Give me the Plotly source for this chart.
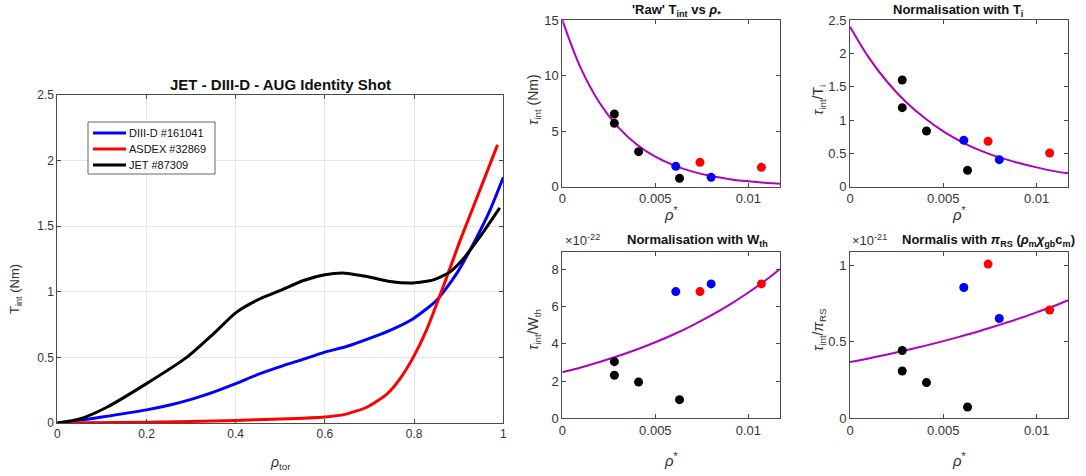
import plotly.graph_objects as go

W, H = 1086, 476

# ---------------- data: radial torque profiles ----------------
rho_diiid = [0.0, 0.05, 0.10, 0.20, 0.25, 0.30, 0.35, 0.40, 0.45, 0.50, 0.544, 0.60, 0.65, 0.70, 0.746, 0.798, 0.85, 0.895, 0.933, 0.97, 1.0]
T_diiid = [0.0, 0.02, 0.045, 0.10, 0.135, 0.18, 0.236, 0.30, 0.37, 0.43, 0.477, 0.54, 0.585, 0.645, 0.706, 0.795, 0.934, 1.137, 1.366, 1.62, 1.873]

rho_asdex = [0.0, 0.2, 0.4, 0.5, 0.6, 0.645, 0.694, 0.739, 0.769, 0.798, 0.828, 0.865, 0.903, 0.94, 0.987]
T_asdex = [0.0, 0.005, 0.02, 0.03, 0.046, 0.066, 0.12, 0.22, 0.34, 0.50, 0.71, 1.036, 1.39, 1.71, 2.12]

rho_jet = [0.0, 0.05, 0.111, 0.20, 0.29, 0.35, 0.402, 0.4545, 0.50, 0.552, 0.60, 0.645, 0.694, 0.746, 0.798, 0.843, 0.88, 0.91, 0.947, 0.992]
T_jet = [0.0, 0.03, 0.12, 0.30, 0.50, 0.68, 0.845, 0.947, 1.01, 1.086, 1.13, 1.142, 1.117, 1.079, 1.068, 1.091, 1.15, 1.25, 1.416, 1.64]

legend_names = ["DIII-D #161041", "ASDEX #32869", "JET #87309"]

# ---------------- data: scaling points vs rho* ----------------
rhostar_jet = [0.0028, 0.0028, 0.0041, 0.0063]
rhostar_diiid = [0.0061, 0.0080]
rhostar_asdex = [0.0074, 0.0107]

raw_jet = [6.54, 5.70, 3.15, 0.75]
raw_diiid = [1.83, 0.84]
raw_asdex = [2.19, 1.74]

ti_jet = [1.60, 1.185, 0.835, 0.245]
ti_diiid = [0.695, 0.405]
ti_asdex = [0.68, 0.505]

wth_jet = [3.04, 2.31, 1.95, 1.00]      # x 1e-22
wth_diiid = [6.80, 7.21]
wth_asdex = [6.80, 7.21]

rs_jet = [0.443, 0.309, 0.233, 0.074]   # x 1e-21
rs_diiid = [0.854, 0.652]
rs_asdex = [1.007, 0.707]

# fit curves
fit_x = [0.0, 0.001, 0.002, 0.003, 0.004, 0.005, 0.006, 0.007, 0.008, 0.009, 0.010, 0.011, 0.0117]
fit_raw = [15.0, 10.64, 7.55, 5.36, 3.80, 2.70, 1.92, 1.36, 0.96, 0.68, 0.49, 0.34, 0.27]
fit_ti = [2.40, 1.94, 1.57, 1.27, 1.03, 0.83, 0.67, 0.54, 0.44, 0.36, 0.29, 0.23, 0.20]
fit_wth = [2.47, 2.73, 3.02, 3.34, 3.69, 4.08, 4.51, 4.99, 5.52, 6.10, 6.75, 7.46, 8.01]
fit_rs = [0.367, 0.391, 0.417, 0.444, 0.473, 0.504, 0.537, 0.572, 0.610, 0.649, 0.692, 0.737, 0.771]


def px(x):
    return x / W


def py(y):
    return 1 - y / H


FONT = "Liberation Sans, Arial, Helvetica, sans-serif"
AXC = "#4a4a4a"
TXT = "#333333"
MAG = "#B000C0"

fig = go.Figure()

# left plot lines
for xs, ys, c in [(rho_diiid, T_diiid, "#0000FF"), (rho_asdex, T_asdex, "#FF0000"), (rho_jet, T_jet, "#000000")]:
    fig.add_trace(go.Scatter(x=xs, y=ys, mode="lines", line=dict(color=c, width=3, shape="spline", smoothing=0.6),
                             showlegend=False, xaxis="x", yaxis="y"))

panels = [
    ("x2", "y2", raw_jet, raw_diiid, raw_asdex, fit_raw),
    ("x3", "y3", ti_jet, ti_diiid, ti_asdex, fit_ti),
    ("x4", "y4", wth_jet, wth_diiid, wth_asdex, fit_wth),
    ("x5", "y5", rs_jet, rs_diiid, rs_asdex, fit_rs),
]
for xa, ya, vj, vd, va, fy in panels:
    fig.add_trace(go.Scatter(x=fit_x, y=fy, mode="lines", line=dict(color=MAG, width=2, shape="spline"),
                             showlegend=False, xaxis=xa, yaxis=ya))
    for xs, ys, c in [(rhostar_jet, vj, "#000000"), (rhostar_diiid, vd, "#0000FF"), (rhostar_asdex, va, "#FF0000")]:
        fig.add_trace(go.Scatter(x=xs, y=ys, mode="markers", marker=dict(color=c, size=9),
                                 showlegend=False, xaxis=xa, yaxis=ya))


def axis_common(fs):
    return dict(showline=True, linecolor=AXC, linewidth=1, mirror="ticks", ticks="inside", ticklen=4,
                tickcolor=AXC, tickfont=dict(family=FONT, size=fs, color=TXT), zeroline=False,
                automargin=False)


layout = dict(
    width=W, height=H, margin=dict(l=0, r=0, t=0, b=0, pad=0, autoexpand=False),
    paper_bgcolor="white", plot_bgcolor="white", showlegend=False,
    font=dict(family=FONT, color=TXT),
)

# left axes
layout["xaxis"] = dict(domain=[px(57.3), px(503.3)], range=[0, 1], anchor="y",
                       tickvals=[0, 0.2, 0.4, 0.6, 0.8, 1], ticktext=["0", "0.2", "0.4", "0.6", "0.8", "1"],
                       showgrid=True, gridcolor="#e6e6e6", **axis_common(12))
layout["yaxis"] = dict(domain=[py(423), py(95)], range=[0, 2.5], anchor="x",
                       tickvals=[0, 0.5, 1, 1.5, 2, 2.5], ticktext=["0", "0.5", "1", "1.5", "2", "2.5"],
                       showgrid=True, gridcolor="#e6e6e6", **axis_common(12))

xt = dict(tickvals=[0, 0.005, 0.01], ticktext=["0", "0.005", "0.01"], range=[0, 0.0117], showgrid=False)
colx = {"L": [px(562.3), px(780)], "R": [px(850), px(1068.3)]}
rowy = {"T": [py(186.7), py(20)], "B": [py(418.3), py(251.7)]}

specs = [
    ("2", "L", "T", [0, 15], [0, 5, 10, 15], ["0", "5", "10", "15"]),
    ("3", "R", "T", [0, 2.5], [0, 0.5, 1, 1.5, 2, 2.5], ["0", "0.5", "1", "1.5", "2", "2.5"]),
    ("4", "L", "B", [0, 8.94], [0, 2, 4, 6, 8], ["0", "2", "4", "6", "8"]),
    ("5", "R", "B", [0, 1.088], [0, 0.5, 1], ["0", "0.5", "1"]),
]
for n, c, r, yr, tv, tt in specs:
    layout["xaxis" + n] = dict(domain=colx[c], anchor="y" + n, **xt, **axis_common(13))
    layout["yaxis" + n] = dict(domain=rowy[r], anchor="x" + n, range=yr, tickvals=tv, ticktext=tt,
                               showgrid=False, **axis_common(13))

fig.update_layout(**layout)

ann = []


def text(x, y, s, size, angle=0, xanchor="center", yanchor="middle", color=TXT):
    ann.append(dict(x=px(x), y=py(y), xref="paper", yref="paper", text=s, showarrow=False,
                    textangle=angle, xanchor=xanchor, yanchor=yanchor,
                    font=dict(family=FONT, size=size, color=color)))


# left plot texts
text(280, 84, "<b>JET - DIII-D - AUG Identity Shot</b>", 15, color="#111111")
text(280, 463, "<i>ρ</i><sub>tor</sub>", 14)
text(15, 289, "T<sub>int</sub> (Nm)", 13, angle=-90)

# subplot titles
text(676, 0, "<b>'Raw' T<sub>int</sub> vs <i>ρ</i><sub>*</sub></b>", 13, yanchor="top", color="#111111")
text(958, 0, "<b>Normalisation with T<sub>i</sub></b>", 13, yanchor="top", color="#111111")
text(625, 240, "<b>Normalisation with W<sub>th</sub></b>", 13, xanchor="left", color="#111111")
text(900, 240, "<b>Normalis with <i>π</i><sub>RS</sub> (<i>ρ</i><sub>m</sub><i>χ</i><sub>gb</sub>c<sub>m</sub>)</b>", 13,
     xanchor="left", color="#111111")

# exponents
text(563, 240, "×10<sup>-22</sup>", 13, xanchor="left")
text(850, 240, "×10<sup>-21</sup>", 13, xanchor="left")

# axis labels
text(534, 100, "<i>τ</i><sub>int</sub> (Nm)", 14, angle=-90)
text(819, 100, "<i>τ</i><sub>int</sub>/T<sub>i</sub>", 14, angle=-90)
text(534, 330, "<i>τ</i><sub>int</sub>/W<sub>th</sub>", 14, angle=-90)
text(819, 330, "<i>τ</i><sub>int</sub>/<i>π</i><sub>RS</sub>", 14, angle=-90)
for xc in (671, 959):
    text(xc, 214, "<i>ρ</i><sup>*</sup>", 15)
    text(xc, 459, "<i>ρ</i><sup>*</sup>", 15)

# manual legend
shapes = [dict(type="rect", xref="paper", yref="paper", x0=px(88), x1=px(215), y0=py(174), y1=py(122),
               line=dict(color="#666666", width=1), fillcolor="white", layer="above")]
leg_colors = ["#0000FF", "#FF0000", "#000000"]
for i, (name, c) in enumerate(zip(legend_names, leg_colors)):
    yy = 133 + i * 16
    shapes.append(dict(type="line", xref="paper", yref="paper", x0=px(93), x1=px(126), y0=py(yy), y1=py(yy),
                       line=dict(color=c, width=3), layer="above"))
    text(127, yy, name, 11, xanchor="left", color="#111111")

fig.update_layout(annotations=ann, shapes=shapes)
fig.write_html("out.html", config={"displayModeBar": False},
               post_script="document.body.style.margin='0';document.body.style.overflow='hidden';")
